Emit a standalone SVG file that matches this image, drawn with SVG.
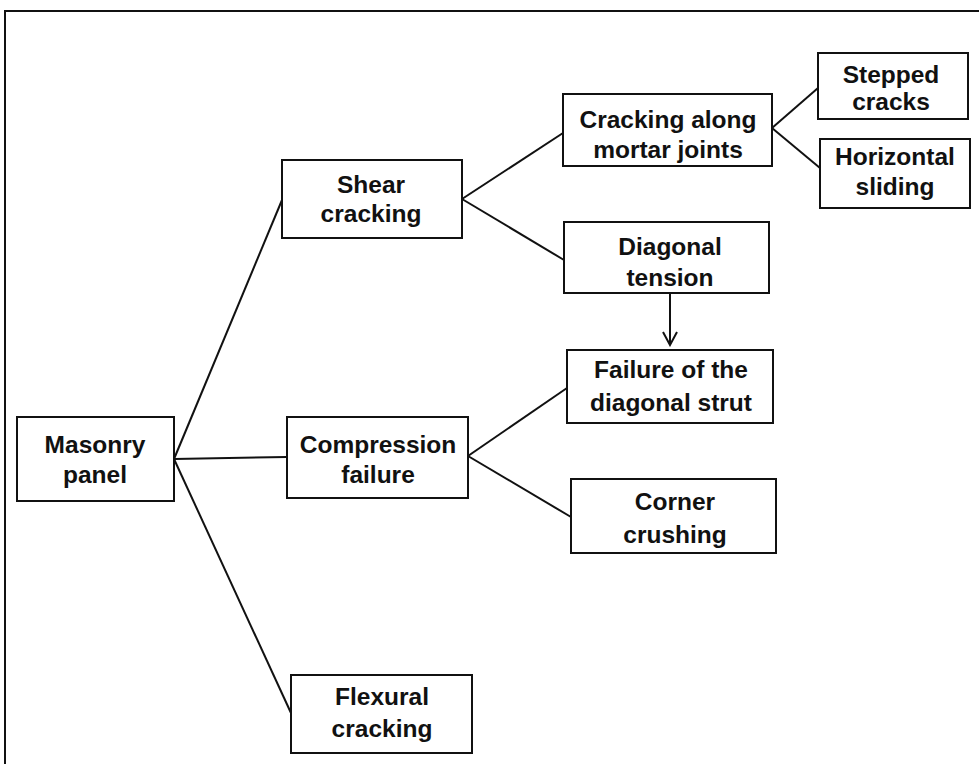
<svg xmlns="http://www.w3.org/2000/svg" width="979" height="764" viewBox="0 0 979 764">
<style>
.box{fill:#fff;stroke:#111;stroke-width:2}
.t{font-family:"Liberation Sans",Arial,sans-serif;font-weight:bold;font-size:24.5px;fill:#111;text-anchor:middle}
.c{fill:none;stroke:#111;stroke-width:2}
</style>
<defs>
<marker id="arr" viewBox="0 0 16 16" refX="14" refY="8" markerWidth="16" markerHeight="16" markerUnits="userSpaceOnUse" orient="auto">
<path d="M1,1 L14,8 L1,15" fill="none" stroke="#111" stroke-width="2"/>
</marker>
</defs>
<rect width="979" height="764" fill="#fff"/>
<path d="M5,764 V11 H979" fill="none" stroke="#111" stroke-width="2"/>
<g id="connectors">
<line class="c" x1="174" y1="459" x2="282" y2="200"/>
<line class="c" x1="174" y1="459" x2="287" y2="457"/>
<line class="c" x1="174" y1="459" x2="291" y2="713"/>
<line class="c" x1="462" y1="199" x2="563" y2="133"/>
<line class="c" x1="462" y1="199" x2="564" y2="260"/>
<line class="c" x1="772" y1="128" x2="818" y2="88"/>
<line class="c" x1="772" y1="128" x2="820" y2="168"/>
<line class="c" x1="468" y1="456" x2="567" y2="388"/>
<line class="c" x1="468" y1="456" x2="571" y2="517"/>
<line class="c" x1="670" y1="293" x2="670" y2="345" marker-end="url(#arr)"/>
</g>
<g id="masonry-panel">
<rect class="box" x="17" y="417" width="157" height="84"/>
<text class="t" x="95" y="453">Masonry</text>
<text class="t" x="95" y="483">panel</text>
</g>
<g id="shear-cracking">
<rect class="box" x="282" y="160" width="180" height="78"/>
<text class="t" x="371" y="193">Shear</text>
<text class="t" x="371" y="222">cracking</text>
</g>
<g id="compression-failure">
<rect class="box" x="287" y="417" width="181" height="81"/>
<text class="t" x="378" y="453">Compression</text>
<text class="t" x="378" y="483">failure</text>
</g>
<g id="flexural-cracking">
<rect class="box" x="291" y="675" width="181" height="78"/>
<text class="t" x="382" y="705">Flexural</text>
<text class="t" x="382" y="737">cracking</text>
</g>
<g id="cracking-mortar">
<rect class="box" x="563" y="94" width="209" height="72"/>
<text class="t" x="668" y="128">Cracking along</text>
<text class="t" x="668" y="158">mortar joints</text>
</g>
<g id="stepped-cracks">
<rect class="box" x="818" y="53" width="150" height="66"/>
<text class="t" x="891" y="83">Stepped</text>
<text class="t" x="891" y="110">cracks</text>
</g>
<g id="horizontal-sliding">
<rect class="box" x="820" y="139" width="150" height="69"/>
<text class="t" x="895" y="165">Horizontal</text>
<text class="t" x="895" y="195">sliding</text>
</g>
<g id="diagonal-tension">
<rect class="box" x="564" y="222" width="205" height="71"/>
<text class="t" x="670" y="255">Diagonal</text>
<text class="t" x="670" y="286">tension</text>
</g>
<g id="diagonal-strut">
<rect class="box" x="567" y="350" width="206" height="73"/>
<text class="t" x="671" y="378">Failure of the</text>
<text class="t" x="671" y="411">diagonal strut</text>
</g>
<g id="corner-crushing">
<rect class="box" x="571" y="479" width="205" height="74"/>
<text class="t" x="675" y="510">Corner</text>
<text class="t" x="675" y="543">crushing</text>
</g>
</svg>
